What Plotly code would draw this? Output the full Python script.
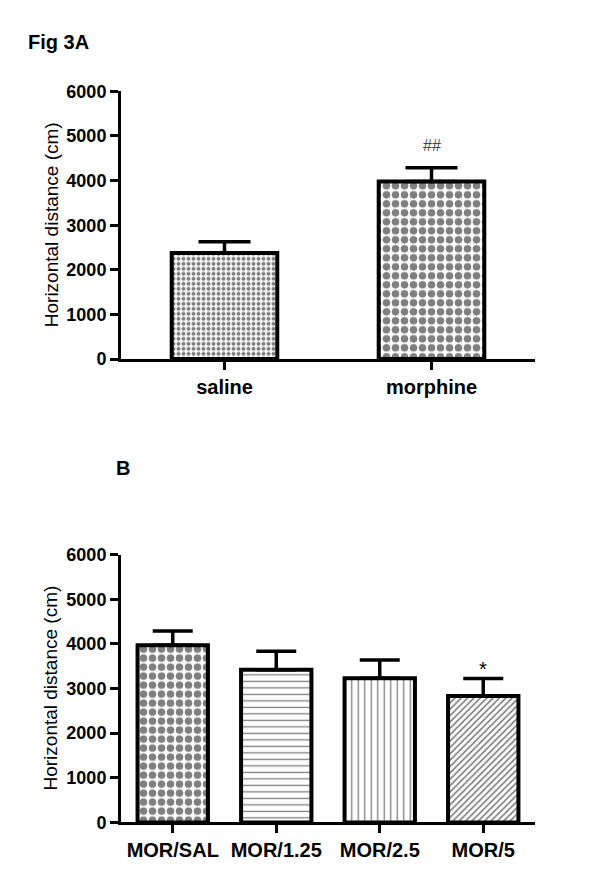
import plotly.graph_objects as go

# ---- data ----
top_categories = ["saline", "morphine"]
top_means = [2380, 3980]
top_sem = [250, 310]
top_marks = ["", "##"]

bottom_categories = ["MOR/SAL", "MOR/1.25", "MOR/2.5", "MOR/5"]
bottom_means = [3970, 3420, 3230, 2830]
bottom_sem = [320, 415, 410, 395]
bottom_marks = ["", "", "", "*"]

y_ticks = [0, 1000, 2000, 3000, 4000, 5000, 6000]

FONT = "Arial, Liberation Sans, sans-serif"

fig = go.Figure()

fig.add_trace(go.Bar(
    x=top_categories, y=top_means, width=0.51,
    xaxis="x", yaxis="y",
    marker=dict(
        color="white",
        line=dict(color="black", width=4),
        pattern=dict(shape=[".", "."], size=[5, 9], solidity=[0.5, 0.55],
                     fgcolor="black", bgcolor="white", fillmode="overlay"),
    ),
    error_y=dict(type="data", symmetric=False, array=top_sem,
                 arrayminus=[0] * len(top_sem),
                 color="black", thickness=3.5, width=26),
    showlegend=False,
))

fig.add_trace(go.Bar(
    x=bottom_categories, y=bottom_means, width=0.68,
    xaxis="x2", yaxis="y2",
    marker=dict(
        color="white",
        line=dict(color="black", width=4),
        pattern=dict(shape=[".", "-", "|", "/"], size=[9, 6.5, 6.5, 4.5],
                     solidity=[0.55, 0.2, 0.2, 0.38],
                     fgcolor="black", bgcolor="white", fillmode="overlay"),
    ),
    error_y=dict(type="data", symmetric=False, array=bottom_sem,
                 arrayminus=[0] * len(bottom_sem),
                 color="black", thickness=3.5, width=20),
    showlegend=False,
))

axis_common = dict(showline=True, linewidth=3, linecolor="black",
                   ticks="outside", ticklen=8, tickwidth=3, tickcolor="black",
                   showgrid=False, zeroline=False)

xdom = [113 / 600, 527 / 600]
top_dom = [1 - 349 / 886, 1 - 75 / 886]
bot_dom = [1 - 823 / 886, 1 - 549 / 886]

annotations = []
for cat, m, s, t in zip(top_categories, top_means, top_sem, top_marks):
    if t:
        annotations.append(dict(x=cat, y=m + s, xref="x", yref="y", text=t,
                                showarrow=False, yanchor="middle", yshift=22,
                                font=dict(family=FONT, size=16, color="#444")))
for cat, m, s, t in zip(bottom_categories, bottom_means, bottom_sem, bottom_marks):
    if t:
        annotations.append(dict(x=cat, y=m + s, xref="x2", yref="y2", text=t,
                                showarrow=False, yanchor="bottom", yshift=-4,
                                font=dict(family=FONT, size=20, color="black")))

annotations += [
    dict(x=18 / 600, y=1 - 25 / 886, xref="paper", yref="paper", text="<b>Fig 3A</b>",
         showarrow=False, xanchor="left", yanchor="middle",
         font=dict(family=FONT, size=20, color="black")),
    dict(x=106 / 600, y=1 - 460 / 886, xref="paper", yref="paper", text="<b>B</b>",
         showarrow=False, xanchor="left", yanchor="middle",
         font=dict(family=FONT, size=20, color="black")),
    dict(x=43 / 600, y=1 - 212 / 886, xref="paper", yref="paper",
         text="Horizontal distance (cm)", textangle=-90, showarrow=False,
         xanchor="center", yanchor="middle",
         font=dict(family=FONT, size=19, color="black")),
    dict(x=43 / 600, y=1 - 686 / 886, xref="paper", yref="paper",
         text="Horizontal distance (cm)", textangle=-90, showarrow=False,
         xanchor="center", yanchor="middle",
         font=dict(family=FONT, size=19, color="black")),
]

fig.update_layout(
    width=600, height=886,
    margin=dict(l=0, r=0, t=0, b=0),
    paper_bgcolor="white", plot_bgcolor="white",
    font=dict(family=FONT, color="black"),
    bargap=0.3,
    xaxis=dict(domain=xdom, anchor="y", type="category", range=[-0.5, 1.5],
               tickfont=dict(family=FONT, size=20, color="black", weight="bold"),
               **axis_common),
    yaxis=dict(domain=top_dom, anchor="x", range=[0, 6000], tickvals=y_ticks,
               tickfont=dict(family=FONT, size=18, color="black", weight="bold"),
               **axis_common),
    xaxis2=dict(domain=xdom, anchor="y2", type="category", range=[-0.5, 3.5],
                tickfont=dict(family=FONT, size=20, color="black", weight="bold"),
                **axis_common),
    yaxis2=dict(domain=bot_dom, anchor="x2", range=[0, 6000], tickvals=y_ticks,
                tickfont=dict(family=FONT, size=18, color="black", weight="bold"),
                **axis_common),
    annotations=annotations,
)

fig.write_html("out.html")
